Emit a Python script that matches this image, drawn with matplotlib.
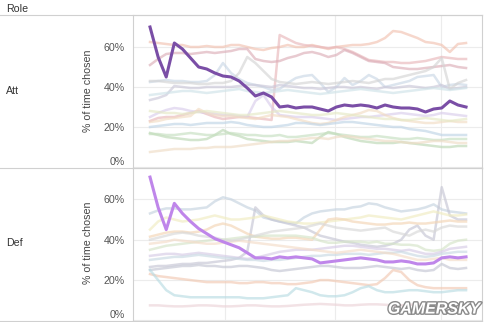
import matplotlib
matplotlib.use("Agg")
import matplotlib.pyplot as plt
import matplotlib.patheffects as pe
from matplotlib.lines import Line2D
import numpy as np

plt.rcParams['font.family'] = ['Liberation Sans', 'DejaVu Sans']

# weekly points, same x for every series
weeks = list(range(40))
month_marks = [9.25, 22.8, 35.9]
pct_ticks = [0, 0.2, 0.4, 0.6]
pct_labels = ['0%', '20%', '40%', '60%']
roles = ['Att', 'Def']

# --- Att: highlighted operator ---
att_main = [0.70, 0.55, 0.45, 0.62, 0.59, 0.545, 0.50, 0.49, 0.47, 0.455,
            0.45, 0.43, 0.395, 0.355, 0.37, 0.35, 0.30, 0.305, 0.295, 0.30,
            0.30, 0.29, 0.28, 0.30, 0.31, 0.305, 0.31, 0.305, 0.295, 0.31,
            0.30, 0.295, 0.295, 0.29, 0.275, 0.29, 0.295, 0.33, 0.31, 0.30]

# --- Att: other operators ---
att_a = [0.625, 0.62, 0.615, 0.61, 0.61, 0.60, 0.60, 0.605, 0.60, 0.60,
         0.61, 0.61, 0.60, 0.59, 0.585, 0.595, 0.60, 0.61, 0.60, 0.60,
         0.61, 0.60, 0.59, 0.60, 0.605, 0.61, 0.61, 0.615, 0.625, 0.645,
         0.68, 0.675, 0.66, 0.645, 0.625, 0.62, 0.61, 0.575, 0.615, 0.62]
att_b = [0.23, 0.245, 0.25, 0.25, 0.26, 0.27, 0.28, 0.265, 0.25, 0.24,
         0.245, 0.25, 0.25, 0.245, 0.24, 0.235, 0.66, 0.64, 0.62, 0.61,
         0.605, 0.60, 0.595, 0.60, 0.59, 0.575, 0.555, 0.535, 0.53, 0.525,
         0.525, 0.52, 0.52, 0.525, 0.53, 0.54, 0.55, 0.545, 0.54, 0.54]
att_c = [0.51, 0.54, 0.565, 0.57, 0.57, 0.565, 0.57, 0.575, 0.57, 0.575,
         0.58, 0.59, 0.59, 0.54, 0.53, 0.525, 0.53, 0.545, 0.555, 0.57,
         0.575, 0.565, 0.55, 0.56, 0.585, 0.57, 0.55, 0.53, 0.525, 0.52,
         0.50, 0.495, 0.49, 0.49, 0.495, 0.50, 0.505, 0.51, 0.50, 0.495]
att_e = [0.425, 0.43, 0.435, 0.43, 0.43, 0.425, 0.425, 0.43, 0.46, 0.52,
         0.47, 0.44, 0.42, 0.41, 0.40, 0.385, 0.39, 0.42, 0.445, 0.455,
         0.46, 0.42, 0.375, 0.40, 0.445, 0.41, 0.43, 0.46, 0.44, 0.40,
         0.41, 0.42, 0.43, 0.45, 0.455, 0.46, 0.40, 0.41, 0.415, 0.41]
att_f = [0.335, 0.345, 0.36, 0.405, 0.40, 0.395, 0.395, 0.40, 0.40, 0.40,
         0.40, 0.405, 0.41, 0.41, 0.405, 0.40, 0.41, 0.405, 0.40, 0.395,
         0.395, 0.39, 0.395, 0.40, 0.40, 0.395, 0.40, 0.395, 0.39, 0.40,
         0.395, 0.40, 0.405, 0.40, 0.395, 0.40, 0.41, 0.39, 0.395, 0.40]
att_g = [0.43, 0.43, 0.425, 0.42, 0.42, 0.42, 0.415, 0.415, 0.42, 0.42,
         0.43, 0.47, 0.55, 0.52, 0.48, 0.44, 0.425, 0.42, 0.415, 0.42,
         0.425, 0.42, 0.415, 0.42, 0.425, 0.43, 0.425, 0.42, 0.43, 0.44,
         0.44, 0.45, 0.46, 0.47, 0.48, 0.50, 0.545, 0.39, 0.42, 0.435]
att_h = [0.25, 0.27, 0.285, 0.295, 0.29, 0.28, 0.275, 0.27, 0.265, 0.26,
         0.26, 0.255, 0.25, 0.33, 0.36, 0.30, 0.26, 0.255, 0.25, 0.25,
         0.25, 0.245, 0.24, 0.235, 0.24, 0.245, 0.25, 0.25, 0.255, 0.26,
         0.265, 0.27, 0.265, 0.26, 0.255, 0.26, 0.27, 0.265, 0.26, 0.255]
att_i = [0.225, 0.23, 0.24, 0.245, 0.25, 0.255, 0.29, 0.27, 0.26, 0.255,
         0.255, 0.25, 0.245, 0.24, 0.25, 0.26, 0.255, 0.25, 0.24, 0.23,
         0.22, 0.215, 0.22, 0.235, 0.25, 0.26, 0.27, 0.285, 0.28, 0.26,
         0.245, 0.235, 0.23, 0.225, 0.22, 0.22, 0.225, 0.23, 0.225, 0.225]
att_j = [0.20, 0.205, 0.21, 0.215, 0.215, 0.21, 0.215, 0.22, 0.22, 0.22,
         0.225, 0.22, 0.21, 0.205, 0.20, 0.20, 0.205, 0.21, 0.22, 0.22,
         0.215, 0.21, 0.215, 0.22, 0.225, 0.225, 0.22, 0.215, 0.21, 0.205,
         0.20, 0.20, 0.19, 0.185, 0.18, 0.17, 0.16, 0.16, 0.16, 0.16]
att_k = [0.17, 0.16, 0.15, 0.145, 0.14, 0.135, 0.135, 0.14, 0.16, 0.185,
         0.165, 0.155, 0.14, 0.135, 0.13, 0.125, 0.125, 0.125, 0.13, 0.125,
         0.12, 0.15, 0.175, 0.165, 0.15, 0.14, 0.13, 0.125, 0.12, 0.12,
         0.12, 0.125, 0.12, 0.115, 0.11, 0.105, 0.10, 0.10, 0.105, 0.105]
att_l = [0.165, 0.165, 0.16, 0.16, 0.165, 0.17, 0.165, 0.16, 0.16, 0.165,
         0.17, 0.165, 0.16, 0.16, 0.155, 0.155, 0.16, 0.15, 0.15, 0.155,
         0.16, 0.165, 0.17, 0.165, 0.16, 0.155, 0.15, 0.15, 0.155, 0.15,
         0.145, 0.14, 0.14, 0.145, 0.14, 0.135, 0.135, 0.14, 0.14, 0.14]
att_m = [0.075, 0.08, 0.085, 0.09, 0.09, 0.09, 0.095, 0.095, 0.10, 0.10,
         0.10, 0.105, 0.11, 0.115, 0.12, 0.125, 0.13, 0.13, 0.135, 0.14,
         0.145, 0.145, 0.14, 0.15, 0.155, 0.15, 0.145, 0.14, 0.135, 0.13,
         0.13, 0.125, 0.12, 0.12, 0.125, 0.13, 0.13, 0.125, 0.12, 0.12]
att_n = [0.28, 0.275, 0.27, 0.27, 0.265, 0.27, 0.275, 0.28, 0.275, 0.27,
         0.265, 0.26, 0.26, 0.265, 0.27, 0.275, 0.28, 0.275, 0.27, 0.265,
         0.26, 0.26, 0.265, 0.27, 0.265, 0.26, 0.255, 0.25, 0.245, 0.24,
         0.24, 0.235, 0.235, 0.24, 0.245, 0.24, 0.235, 0.23, 0.235, 0.24]
att_o = [0.36, 0.365, 0.37, 0.375, 0.38, 0.38, 0.375, 0.37, 0.375, 0.38,
         0.385, 0.39, 0.38, 0.375, 0.37, 0.375, 0.38, 0.385, 0.38, 0.375,
         0.37, 0.365, 0.37, 0.375, 0.38, 0.385, 0.39, 0.385, 0.38, 0.375,
         0.37, 0.375, 0.38, 0.385, 0.39, 0.395, 0.39, 0.385, 0.39, 0.395]

# --- Def: highlighted operator ---
def_main = [0.71, 0.56, 0.45, 0.58, 0.53, 0.49, 0.455, 0.43, 0.405, 0.39,
            0.375, 0.36, 0.335, 0.31, 0.31, 0.305, 0.315, 0.31, 0.315, 0.31,
            0.305, 0.285, 0.29, 0.295, 0.30, 0.305, 0.31, 0.305, 0.30, 0.29,
            0.29, 0.295, 0.29, 0.28, 0.28, 0.285, 0.31, 0.315, 0.31, 0.315]

# --- Def: other operators ---
def_a = [0.53, 0.545, 0.555, 0.555, 0.55, 0.55, 0.555, 0.56, 0.59, 0.61,
         0.60, 0.58, 0.56, 0.545, 0.51, 0.50, 0.49, 0.485, 0.48, 0.51,
         0.53, 0.54, 0.545, 0.55, 0.55, 0.56, 0.565, 0.58, 0.575, 0.56,
         0.55, 0.54, 0.545, 0.55, 0.56, 0.575, 0.55, 0.54, 0.535, 0.53]
def_b = [0.265, 0.27, 0.27, 0.275, 0.28, 0.28, 0.285, 0.285, 0.29, 0.295,
         0.30, 0.31, 0.34, 0.56, 0.52, 0.50, 0.49, 0.48, 0.47, 0.46,
         0.44, 0.42, 0.41, 0.40, 0.39, 0.385, 0.375, 0.37, 0.365, 0.37,
         0.38, 0.40, 0.45, 0.47, 0.42, 0.40, 0.66, 0.52, 0.50, 0.50]
def_c = [0.45, 0.49, 0.51, 0.50, 0.49, 0.495, 0.50, 0.51, 0.52, 0.51,
         0.50, 0.50, 0.505, 0.51, 0.52, 0.51, 0.50, 0.49, 0.485, 0.48,
         0.48, 0.485, 0.49, 0.495, 0.50, 0.505, 0.51, 0.52, 0.515, 0.51,
         0.505, 0.50, 0.51, 0.52, 0.53, 0.54, 0.53, 0.52, 0.52, 0.525]
def_d = [0.415, 0.425, 0.435, 0.44, 0.44, 0.435, 0.44, 0.45, 0.47, 0.48,
         0.47, 0.45, 0.43, 0.415, 0.41, 0.405, 0.405, 0.41, 0.41, 0.405,
         0.40, 0.45, 0.50, 0.505, 0.50, 0.49, 0.485, 0.48, 0.475, 0.475,
         0.48, 0.48, 0.485, 0.48, 0.48, 0.485, 0.49, 0.495, 0.49, 0.49]
def_e = [0.35, 0.36, 0.37, 0.375, 0.38, 0.385, 0.39, 0.395, 0.40, 0.40,
         0.405, 0.41, 0.415, 0.415, 0.42, 0.42, 0.42, 0.42, 0.42, 0.415,
         0.41, 0.395, 0.385, 0.385, 0.39, 0.39, 0.39, 0.385, 0.39, 0.38,
         0.38, 0.375, 0.375, 0.37, 0.35, 0.345, 0.35, 0.38, 0.395, 0.40]
def_f = [0.32, 0.325, 0.33, 0.33, 0.325, 0.33, 0.335, 0.33, 0.325, 0.32,
         0.315, 0.31, 0.305, 0.31, 0.32, 0.33, 0.34, 0.345, 0.35, 0.35,
         0.35, 0.355, 0.36, 0.365, 0.37, 0.37, 0.365, 0.36, 0.355, 0.355,
         0.35, 0.345, 0.35, 0.34, 0.33, 0.33, 0.34, 0.355, 0.36, 0.365]
def_g = [0.30, 0.305, 0.31, 0.315, 0.315, 0.32, 0.325, 0.32, 0.315, 0.31,
         0.31, 0.305, 0.30, 0.30, 0.295, 0.30, 0.30, 0.305, 0.31, 0.315,
         0.32, 0.32, 0.325, 0.325, 0.33, 0.33, 0.33, 0.325, 0.33, 0.335,
         0.335, 0.34, 0.33, 0.32, 0.315, 0.32, 0.33, 0.335, 0.34, 0.34]
def_h = [0.25, 0.255, 0.26, 0.265, 0.27, 0.27, 0.275, 0.27, 0.27, 0.265,
         0.265, 0.27, 0.27, 0.265, 0.26, 0.25, 0.245, 0.25, 0.255, 0.26,
         0.265, 0.27, 0.27, 0.265, 0.26, 0.26, 0.26, 0.265, 0.27, 0.265,
         0.26, 0.255, 0.26, 0.25, 0.245, 0.25, 0.28, 0.26, 0.255, 0.26]
def_i = [0.23, 0.22, 0.215, 0.21, 0.205, 0.20, 0.195, 0.19, 0.19, 0.19,
         0.19, 0.185, 0.185, 0.19, 0.19, 0.185, 0.185, 0.18, 0.18, 0.185,
         0.19, 0.20, 0.20, 0.195, 0.19, 0.185, 0.18, 0.175, 0.18, 0.21,
         0.25, 0.24, 0.20, 0.175, 0.165, 0.16, 0.16, 0.16, 0.16, 0.16]
def_j = [0.25, 0.20, 0.15, 0.125, 0.12, 0.115, 0.115, 0.115, 0.115, 0.115,
         0.115, 0.115, 0.11, 0.11, 0.11, 0.115, 0.12, 0.125, 0.16, 0.15,
         0.14, 0.125, 0.12, 0.12, 0.125, 0.14, 0.16, 0.17, 0.15, 0.14,
         0.14, 0.145, 0.15, 0.15, 0.145, 0.14, 0.14, 0.145, 0.15, 0.15]
def_k = [0.075, 0.075, 0.072, 0.07, 0.07, 0.072, 0.075, 0.075, 0.073, 0.07,
         0.07, 0.072, 0.075, 0.075, 0.072, 0.07, 0.07, 0.072, 0.075, 0.078,
         0.08, 0.082, 0.08, 0.078, 0.075, 0.075, 0.078, 0.08, 0.08, 0.078,
         0.075, 0.075, 0.078, 0.08, 0.08, 0.078, 0.075, 0.075, 0.075, 0.075]
def_l = [0.38, 0.385, 0.39, 0.40, 0.395, 0.39, 0.385, 0.38, 0.38, 0.385,
         0.39, 0.395, 0.39, 0.385, 0.38, 0.375, 0.37, 0.365, 0.36, 0.355,
         0.35, 0.345, 0.34, 0.335, 0.34, 0.345, 0.35, 0.345, 0.34, 0.335,
         0.33, 0.32, 0.31, 0.30, 0.30, 0.305, 0.31, 0.30, 0.30, 0.30]
def_m = [0.40, 0.41, 0.42, 0.43, 0.435, 0.43, 0.42, 0.415, 0.41, 0.40,
         0.395, 0.40, 0.41, 0.42, 0.43, 0.44, 0.445, 0.45, 0.455, 0.46,
         0.47, 0.48, 0.47, 0.46, 0.455, 0.45, 0.445, 0.45, 0.455, 0.46,
         0.44, 0.43, 0.42, 0.44, 0.45, 0.44, 0.46, 0.47, 0.465, 0.465]

att_others = [(att_a, '#f2c2b1'), (att_b, '#e9b7ba'), (att_c, '#dcaeb8'),
              (att_e, '#cad7e6'), (att_f, '#cbc8d9'), (att_g, '#d4d4d4'),
              (att_h, '#d9cdeb'), (att_i, '#f2dcc3'), (att_j, '#bfd4e6'),
              (att_k, '#bcd8b5'), (att_l, '#c6dfc0'), (att_m, '#efdcc6'),
              (att_n, '#e5e9c6'), (att_o, '#cfe3e8')]
def_others = [(def_a, '#c5d3e0'), (def_b, '#c6c6d4'), (def_c, '#f0ecc0'),
              (def_d, '#f3d5b5'), (def_e, '#d5e4c8'), (def_f, '#d6cbe6'),
              (def_g, '#c9d9e3'), (def_h, '#c3c6d3'), (def_i, '#f2c9b3'),
              (def_j, '#b9dce3'), (def_k, '#ecd3d8'), (def_l, '#f4dcc8'),
              (def_m, '#d8d8d8')]

W, H = 486, 322


def rect(x0, y0, x1, y1):
    return [x0 / W, 1 - y1 / H, (x1 - x0) / W, (y1 - y0) / H]


fig = plt.figure(figsize=(W / 100, H / 100), dpi=100)
ax_att = fig.add_axes(rect(133, 15, 482, 168))
ax_def = fig.add_axes(rect(133, 168, 482, 321))

panels = [
    (ax_att, att_others, att_main, '#7a4ea6', (-0.005, 0.76), 91),
    (ax_def, def_others, def_main, '#bf86ea', (-0.0025, 0.755), 243),
]

for ax, others, main, main_color, ylim, label_y in panels:
    for vals, col in others:
        ax.plot(weeks, vals, color=col, lw=1.8, alpha=0.65, zorder=2)
    ax.plot(weeks, main, color=main_color, lw=2.2, zorder=5,
            solid_joinstyle='round')
    ax.set_xlim(-2.1, 40.97)
    ax.set_ylim(*ylim)
    ax.set_yticks(pct_ticks)
    ax.set_yticklabels(pct_labels)
    ax.set_xticks(month_marks)
    ax.set_xticklabels([])
    ax.tick_params(length=0, pad=6, labelsize=7.7, labelcolor='#555555')
    ax.get_yticklabels()[0].set_va('bottom')
    ax.grid(True, color='#ececec', lw=0.8, zorder=0)
    ax.set_axisbelow(True)
    for s in ax.spines.values():
        s.set_color('#d0d0d0')
        s.set_linewidth(0.8)
    fig.text(88 / W, 1 - label_y / H, '% of time chosen', rotation=90,
             ha='center', va='center', fontsize=7.7, color='#444444')

fig.text(6 / W, 1 - 8.5 / H, 'Role', ha='left', va='center',
         fontsize=7.7, color='#333333')
for name, yc in zip(roles, [91, 243]):
    fig.text(6 / W, 1 - yc / H, name, ha='left', va='center',
             fontsize=7.7, color='#333333')

# table rules across the full width
for yp in [15, 168, 321]:
    fig.add_artist(Line2D([0, 482 / W], [1 - yp / H, 1 - yp / H],
                          color='#d0d0d0', lw=0.8))

wm = fig.text(434 / W, 1 - 309 / H, 'GAMERSKY', ha='center', va='center',
              fontsize=11.5, fontweight='bold', fontstyle='italic',
              color='white', zorder=10)
wm.set_path_effects([pe.withStroke(linewidth=2, foreground='#8a8a8a')])

fig.savefig('out.png', dpi=100)
